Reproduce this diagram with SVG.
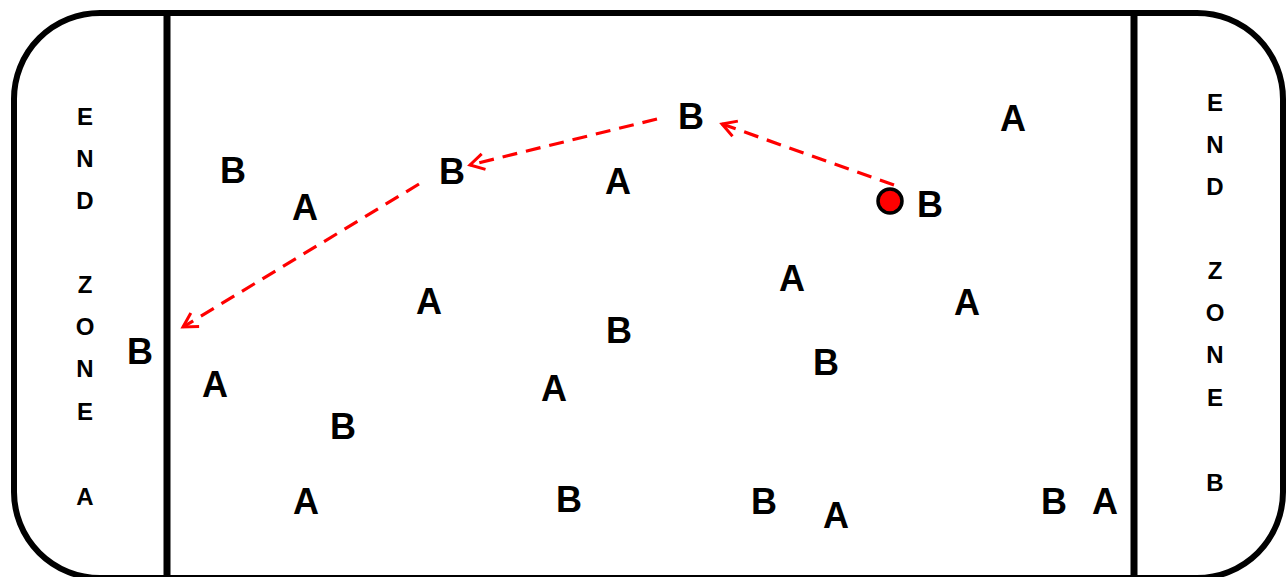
<svg xmlns="http://www.w3.org/2000/svg" width="1286" height="577" viewBox="0 0 1286 577">
<style>
.p{font-family:"Liberation Sans",Arial,sans-serif;font-weight:bold;font-size:36px;fill:#000;text-anchor:middle}
.z{font-family:"Liberation Sans",Arial,sans-serif;font-weight:bold;font-size:24px;fill:#000;text-anchor:middle}
.a{fill:none;stroke:#ff0000;stroke-width:3.2;stroke-dasharray:15 9}
</style>
<defs>
<marker id="h" markerUnits="userSpaceOnUse" markerWidth="24" markerHeight="24" refX="16" refY="10" orient="auto">
<path d="M2,2 L16,10 L2,18" fill="none" stroke="#ff0000" stroke-width="3"/>
</marker>
</defs>
<rect width="1286" height="577" fill="#fff"/>
<g id="field">
<rect x="14" y="13" width="1269" height="565" rx="86" ry="86" fill="none" stroke="#000" stroke-width="6"/>
<line x1="167" y1="13" x2="167" y2="577" stroke="#000" stroke-width="7"/>
<line x1="1134" y1="13" x2="1134" y2="577" stroke="#000" stroke-width="7"/>
</g>
<g id="endzoneA">
<text class="z" x="85" y="125">E</text>
<text class="z" x="85" y="167">N</text>
<text class="z" x="85" y="209">D</text>
<text class="z" x="85" y="293">Z</text>
<text class="z" x="85" y="335">O</text>
<text class="z" x="85" y="377">N</text>
<text class="z" x="85" y="420">E</text>
<text class="z" x="85" y="505">A</text>
</g>
<g id="endzoneB">
<text class="z" x="1215" y="111">E</text>
<text class="z" x="1215" y="153">N</text>
<text class="z" x="1215" y="195">D</text>
<text class="z" x="1215" y="279">Z</text>
<text class="z" x="1215" y="321">O</text>
<text class="z" x="1215" y="363">N</text>
<text class="z" x="1215" y="406">E</text>
<text class="z" x="1215" y="491">B</text>
</g>
<g id="connectors">
<line class="a" x1="894" y1="185" x2="722" y2="124" marker-end="url(#h)"/>
<line class="a" x1="657" y1="119" x2="470" y2="165" marker-end="url(#h)"/>
<line class="a" x1="419" y1="184" x2="183" y2="327" marker-end="url(#h)"/>
</g>
<g id="disc">
<circle cx="890" cy="201" r="12" fill="#ff0000" stroke="#000" stroke-width="3.5"/>
</g>
<g id="players">
<text class="p" x="691" y="129">B</text>
<text class="p" x="1013" y="131">A</text>
<text class="p" x="233" y="183">B</text>
<text class="p" x="452" y="184">B</text>
<text class="p" x="618" y="194">A</text>
<text class="p" x="305" y="220">A</text>
<text class="p" x="930" y="217">B</text>
<text class="p" x="792" y="291">A</text>
<text class="p" x="967" y="315">A</text>
<text class="p" x="429" y="314">A</text>
<text class="p" x="619" y="343">B</text>
<text class="p" x="826" y="375">B</text>
<text class="p" x="554" y="401">A</text>
<text class="p" x="140" y="364">B</text>
<text class="p" x="215" y="397">A</text>
<text class="p" x="343" y="439">B</text>
<text class="p" x="306" y="514">A</text>
<text class="p" x="569" y="512">B</text>
<text class="p" x="764" y="514">B</text>
<text class="p" x="836" y="528">A</text>
<text class="p" x="1054" y="514">B</text>
<text class="p" x="1105" y="514">A</text>
</g>
</svg>
